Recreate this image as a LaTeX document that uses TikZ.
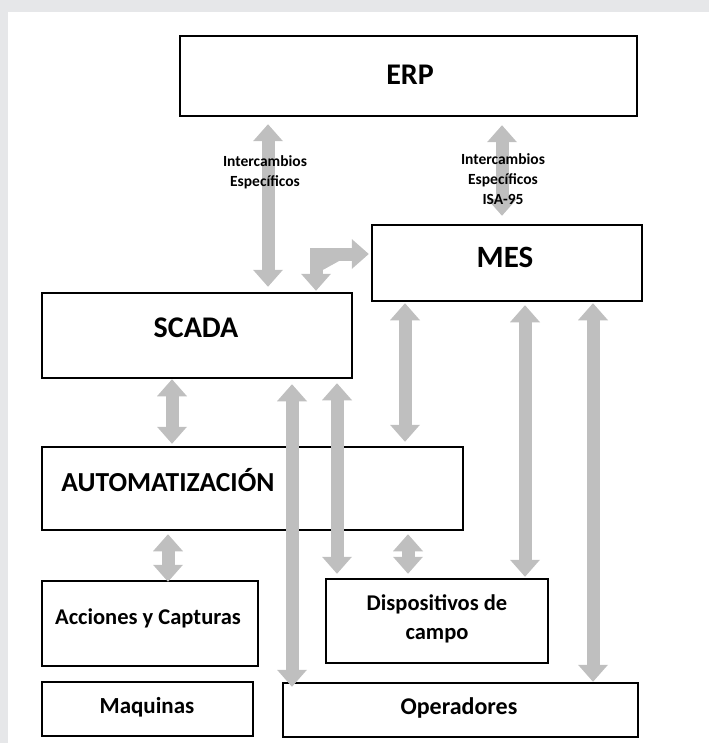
\documentclass[tikz,border=0pt]{standalone}
\usepackage{fontspec}
\setmainfont{Carlito}
\usetikzlibrary{arrows.meta}
\definecolor{framegray}{HTML}{E6E7E9}
\definecolor{arrowgray}{HTML}{BFBFBF}
\newcommand\fsz[2]{\fontsize{#1}{#2}\selectfont}
\tikzset{
  box/.style={draw=black, line width=2.5pt, fill=white, inner sep=0pt},
  txt/.style={inner sep=0pt, align=center, text=black},
  headtip/.tip={Triangle[width=30pt, length=17pt, line width=0pt]},
  fat/.style={draw=arrowgray, fill=arrowgray, line width=13pt,
              line join=miter, {headtip}-{headtip}},
}
\begin{document}
\begin{tikzpicture}[x=1pt, y=-1pt]
  \useasboundingbox (0,0) rectangle (709,746);
  % light frame along the top and left edges
  \fill[framegray] (0,0) rectangle (709,12);
  \fill[framegray] (0,0) rectangle (8,743);

  % boxes
  \node[box, minimum width=457pt, minimum height=80pt] (erp)  at (408.5,76)  {};
  \node[box, minimum width=270pt, minimum height=76pt] (mes)  at (507,263)   {};
  \node[box, minimum width=310pt, minimum height=85pt] (scada) at (197,335.5) {};
  \node[box, minimum width=421pt, minimum height=83pt] (auto) at (252.5,488.5) {};
  \node[box, minimum width=216pt, minimum height=85pt] (acc)  at (150,623.5) {};
  \node[box, minimum width=222pt, minimum height=84pt] (disp) at (437,621)   {};
  \node[box, minimum width=211pt, minimum height=54pt] (maq)  at (147.5,709) {};
  \node[box, minimum width=355pt, minimum height=54pt] (oper) at (460.5,710) {};

  % wide double arrows between the levels
  \draw[fat, shorten <=7pt, shorten >=5pt] (268,0 |- erp.south) -- (268,0 |- scada.north);
  \draw[fat, shorten <=8pt, shorten >=8pt] (502,0 |- erp.south) -- (502,0 |- mes.north);
  \draw[fat, shorten <=1pt, shorten >=2pt] (316,0 |- scada.north) -- (316,254) -- (mes.west |- 0,254);
  \draw[fat, shorten >=2pt] (172,0 |- scada.south) -- (172,0 |- auto.north);
  \draw[fat, shorten <=1pt, shorten >=4pt] (405,0 |- mes.south) -- (405,0 |- auto.north);
  \draw[fat, shorten <=5pt, shorten >=-5pt] (292,0 |- scada.south) -- (292,0 |- oper.north);
  \draw[fat, shorten <=4pt, shorten >=4pt] (337,0 |- scada.south) -- (337,0 |- disp.north);
  \draw[fat, shorten <=3pt, shorten >=1pt] (525,0 |- mes.south) -- (525,0 |- disp.north);
  \draw[fat, shorten <=1pt] (593,0 |- mes.south) -- (593,0 |- oper.north);
  \draw[fat, shorten <=3pt, shorten >=-2pt] (168,0 |- auto.south) -- (168,0 |- acc.north);
  \draw[fat, shorten <=3pt, shorten >=4pt] (408,0 |- auto.south) -- (408,0 |- disp.north);

  % box titles
  \node[txt, font=\bfseries\fsz{30}{36}] (erpt)   at (410,75)  {ERP};
  \node[txt, font=\bfseries\fsz{31}{37}] (mest)   at (505,257) {MES};
  \node[txt, font=\bfseries\fsz{30}{36}] (scadat) at (196,328) {SCADA};
  \node[txt, font=\bfseries\fsz{27.5}{33}] (autot)  at (168,480) {AUTOMATIZACIÓN};
  \node[txt, font=\bfseries\fsz{22.5}{27}] (acct) at (148,618) {Acciones y Capturas};
  \node[txt, font=\bfseries\fsz{22.5}{29}] (dispt) at (437,619) {Dispositivos de\\campo};
  \node[txt, font=\bfseries\fsz{23}{28}] (maqt)   at (147,707) {Maquinas};
  \node[txt, font=\bfseries\fsz{24}{29}] (opert)  at (459,708) {Operadores};

  % exchange labels on the ERP arrows
  \node[txt, font=\bfseries\fsz{15.5}{20}] (lblscada) at (265,172) {Intercambios\\Específicos};
  \node[txt, font=\bfseries\fsz{15.5}{20}] (lblmes)   at (503,179) {Intercambios\\Específicos\\ISA-95};
\end{tikzpicture}
\end{document}
